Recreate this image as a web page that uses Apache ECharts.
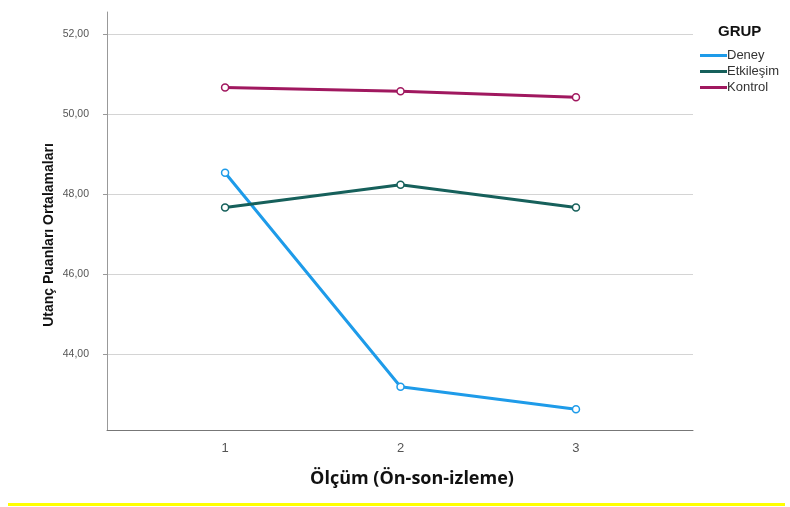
<!DOCTYPE html>
<html><head><meta charset="utf-8">
<script src="https://cdn.jsdelivr.net/npm/echarts@6/dist/echarts.min.js"></script>
<style>html,body{margin:0;padding:0;background:#fff}#c{width:790px;height:507px}</style>
</head><body><div id="c"></div>
<script>
const measurements = [1, 2, 3];
const deney = [48.53, 43.18, 42.62];
const etkilesim = [47.66, 48.23, 47.66];
const kontrol = [50.66, 50.57, 50.42];
const yTicks = [44, 46, 48, 50, 52];
const seriesNames = ['Deney', 'Etkileşim', 'Kontrol'];
const colors = ['#1e9be9', '#16605b', '#a0185f'];
const yTitle = 'Utanç Puanları Ortalamaları';
const xTitle = 'Ölçüm (Ön-son-izleme)';

const chart = echarts.init(document.getElementById('c'), null, {renderer: 'canvas'});
const mk = (name, vals, color) => ({
  name: name, type: 'line', data: measurements.map((m, i) => [m, vals[i]]),
  symbol: 'circle', symbolSize: 7, showSymbol: true,
  lineStyle: {color: color, width: 3},
  itemStyle: {color: '#ffffff', borderColor: color, borderWidth: 1.5, opacity: 1},
  emphasis: {disabled: true}, animation: false
});
chart.setOption({
  animation: false,
  grid: {left: 107, right: 97, top: 12, bottom: 77},
  legend: {
    left: 695, top: 44, orient: 'vertical', itemWidth: 27, itemHeight: 3, itemGap: 3,
    icon: 'rect', textStyle: {fontFamily: 'Liberation Sans', fontSize: 13, color: '#333', padding: [0,0,0,-5]},
    data: seriesNames.map((n, i) => ({name: n, itemStyle: {color: colors[i], borderWidth: 0}}))
  },
  title: {text: 'GRUP', left: 713, top: 19, textStyle: {fontFamily: 'Liberation Sans', fontSize: 15, fontWeight: 'bold', color: '#111'}},
  xAxis: {
    type: 'value', min: 0.327, max: 3.667,
    name: xTitle, nameLocation: 'middle', nameGap: 40,
    nameTextStyle: {fontFamily: 'Open Sans', fontSize: 18, fontWeight: 'bold', color: '#111', padding: [0,0,0,24]},
    axisLine: {show: true, lineStyle: {color: '#777', width: 1}},
    axisTick: {show: false, customValues: measurements},
    axisLabel: {customValues: measurements, color: '#555', fontFamily: 'Liberation Sans', fontSize: 13, margin: 12},
    splitLine: {show: false}
  },
  yAxis: {
    type: 'value', min: 42.1, max: 52.55,
    axisLine: {show: true, lineStyle: {color: '#999', width: 1}},
    axisTick: {show: true, customValues: yTicks, length: 4, inside: false, lineStyle: {color: '#999'}},
    axisLabel: {customValues: yTicks, formatter: v => v.toFixed(2).replace('.', ','), color: '#555', fontFamily: 'Liberation Sans', fontSize: 10.5, margin: 18},
    splitLine: {show: true, lineStyle: {color: '#d4d4d4', width: 1}}
  },
  series: [mk('Deney', deney, colors[0]), mk('Etkileşim', etkilesim, colors[1]), mk('Kontrol', kontrol, colors[2])],
  color: colors,
  graphic: [
    {type: 'rect', shape: {x: 8, y: 503, width: 777, height: 3}, style: {fill: '#ffff00'}},
    {type: 'text', x: 49, y: 235, rotation: Math.PI / 2,
     style: {text: yTitle, fontFamily: 'Liberation Sans', fontSize: 14, fontWeight: 'bold', fill: '#111', align: 'center', verticalAlign: 'middle'}}
  ]
});
</script></body></html>
